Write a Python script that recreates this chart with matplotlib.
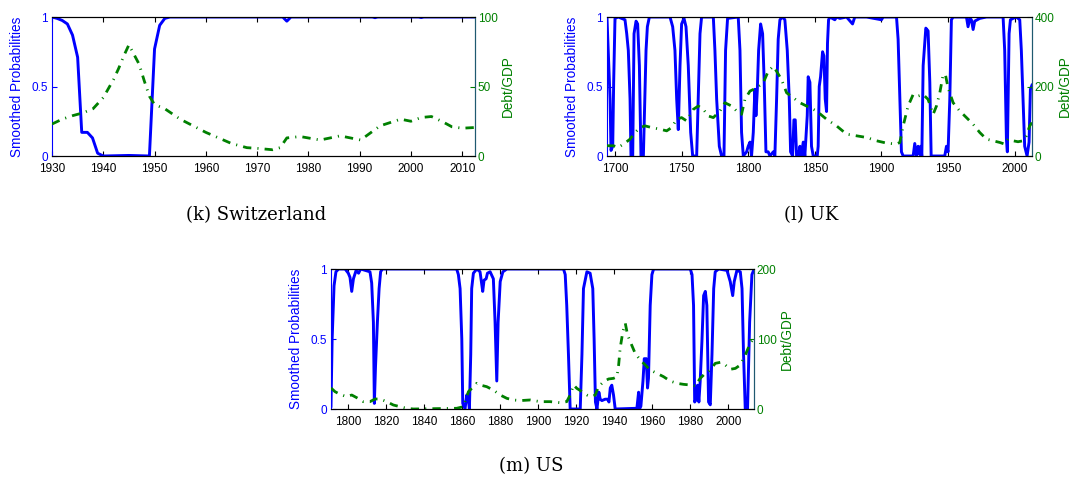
import numpy as np
import matplotlib.pyplot as plt

plt.rcParams['font.family'] = ['Liberation Sans', 'DejaVu Sans']

# ---- Switzerland ----
ch_prob_years = [1930, 1931, 1932, 1933, 1934, 1935, 1935.8, 1936.9, 1937.9, 1938.9, 1940,
                 1945, 1949, 1950, 1951, 1952, 1953, 1975, 1975.8, 1976.6, 1992.5, 1993,
                 1993.5, 2001.5, 2002, 2002.5, 2012.5]
ch_prob = [1.0, 0.99, 0.975, 0.95, 0.87, 0.71, 0.17, 0.17, 0.13, 0.02, 0.0,
           0.004, 0.0, 0.77, 0.94, 0.99, 1.0, 1.0, 0.97, 1.0, 1.0, 0.995,
           1.0, 1.0, 0.996, 1.0, 1.0]
ch_debt_years = [1930, 1932, 1934, 1936, 1938, 1940, 1942, 1943, 1944, 1945, 1946, 1947,
                 1948, 1949, 1950, 1952, 1955, 1960, 1965, 1968, 1970, 1973, 1974.5,
                 1975.8, 1978.4, 1982.3, 1986.2, 1990.2, 1994, 1998, 2000, 2002, 2004,
                 2006, 2008, 2010, 2012.5]
ch_debt = [23, 26.5, 29, 31, 34, 42, 55, 63, 72, 80, 73, 66,
           54, 43, 37, 34, 26.5, 17, 9, 6, 5.5, 4.5, 6,
           13, 14, 11.5, 14.5, 11.5, 21.7, 26.5, 25, 27.7, 28.4,
           25, 21, 20, 20.5]

# ---- UK ----
uk_prob_years = [1694, 1696.3, 1697, 1698.3, 1699, 1700, 1702.5, 1707.5, 1708.8, 1710, 1711.3,
                 1712, 1713.3, 1714.3, 1715.8, 1717, 1718.3, 1719.5, 1721.3, 1723.3, 1724.3,
                 1725.8, 1741.3, 1743.3, 1745, 1746.3, 1747.5, 1748.8, 1750, 1751.8, 1753.3,
                 1755, 1756.8, 1758.3, 1761.3, 1762.5, 1763.8, 1765, 1773.8, 1775, 1776.3,
                 1778.3, 1780, 1781.8, 1783, 1784.5, 1792.5, 1793.8, 1795, 1796.3, 1798.8,
                 1800, 1801.3, 1802.5, 1803.8, 1805, 1805.8, 1806.8, 1807.8, 1809.3, 1810.8,
                 1812, 1813.3, 1815, 1816.3, 1818.8, 1820, 1821.3, 1822.5, 1823.8, 1825.8,
                 1827.5, 1829.3, 1830.8, 1831.8, 1833.3, 1834.3, 1835.3, 1836.3, 1837.8,
                 1838.8, 1839.8, 1841.3, 1842.5, 1844.3, 1845, 1846.3, 1847.5, 1848.8,
                 1851.8, 1852.5, 1853.3, 1854.3, 1855.8, 1856.8, 1857.8, 1858.8, 1859.5,
                 1860.3, 1861.3, 1865, 1866.3, 1868.8, 1873.8, 1878.3, 1880, 1888.8, 1900,
                 1901.3, 1911.3, 1912.5, 1913.8, 1915, 1916.3, 1923.8, 1925, 1926.3, 1927.5,
                 1928.8, 1929.5, 1930.3, 1931.3, 1933.3, 1935, 1936.3, 1937.3, 1947.5,
                 1948.8, 1950, 1951.3, 1952.5, 1953.8, 1963.8, 1965, 1966.3, 1967.5, 1968.8,
                 1970, 1973.8, 1978.8, 1991.3, 1992.5, 1993.8, 1994.5, 1995.8, 1996.8,
                 1998.8, 2001.3, 2003.8, 2005, 2006.3, 2007.5, 2009.3, 2010.8, 2011.8, 2013]
uk_prob = [0.99, 0.41, 0.04, 0.07, 0.53, 0.99, 1.0, 0.98, 0.88, 0.76, 0.41,
           0.0, 0.0, 0.88, 0.97, 0.95, 0.65, 0.0, 0.0, 0.76, 0.93,
           1.0, 1.0, 0.93, 0.76, 0.41, 0.19, 0.65, 0.95, 0.99, 0.93,
           0.65, 0.17, 0.0, 0.0, 0.41, 0.88, 1.0, 1.0, 0.76, 0.41,
           0.07, 0.0, 0.0, 0.76, 0.99, 1.0, 0.76, 0.17, 0.0, 0.03,
           0.07, 0.1, 0.0, 0.17, 0.48, 0.29, 0.47, 0.76, 0.95, 0.88,
           0.53, 0.03, 0.03, 0.0, 0.03, 0.0, 0.41, 0.84, 0.98, 1.0,
           0.98, 0.76, 0.41, 0.03, 0.0, 0.26, 0.26, 0.0, 0.0,
           0.07, 0.0, 0.1, 0.0, 0.29, 0.57, 0.53, 0.07, 0.0,
           0.0, 0.07, 0.5, 0.57, 0.75, 0.72, 0.41, 0.32, 0.81,
           0.98, 1.0, 0.98, 1.0, 0.99, 1.0, 0.95, 1.0, 1.0, 0.98,
           1.0, 1.0, 0.84, 0.41, 0.03, 0.0, 0.0, 0.09, 0.0, 0.07,
           0.01, 0.07, 0.0, 0.65, 0.92, 0.9, 0.53, 0.0, 0.0,
           0.07, 0.03, 0.41, 0.98, 1.0, 1.0, 0.93, 0.99, 0.98, 0.91,
           0.97, 0.99, 1.0, 1.0, 0.76, 0.12, 0.03, 0.88, 0.98,
           0.99, 1.0, 0.98, 0.76, 0.41, 0.07, 0.0, 0.1, 0.48, 0.51]
uk_debt_years = [1694, 1698.8, 1702.5, 1707.5, 1711.3, 1715, 1718.8, 1722.5, 1727.5, 1733.8,
                 1738.8, 1742.5, 1746.3, 1750, 1753.8, 1758.8, 1762.5, 1766.3, 1770, 1773.8,
                 1778.8, 1782.5, 1787.5, 1791.3, 1795, 1797.5, 1801.3, 1806.3, 1811.3, 1815,
                 1818.8, 1821.3, 1825, 1828.8, 1833.8, 1838.8, 1846.3, 1851.3, 1858.8, 1866.3,
                 1873.8, 1881.3, 1888.8, 1896.3, 1903.8, 1911.3, 1913.8, 1916.3, 1920, 1923.8,
                 1927.5, 1931.3, 1935, 1938.8, 1941.3, 1943.8, 1946.3, 1948, 1950, 1953.8,
                 1958.8, 1963.8, 1968.8, 1973.8, 1978.8, 1983.8, 1988.8, 1992.5, 1995, 1998.8,
                 2002.5, 2006.3, 2008.8, 2011.3, 2013]
uk_debt = [29.5, 29.5, 24.8, 37.1, 48.6, 67.6, 81.9, 86.7, 81.9, 77.1,
           72.4, 81.9, 105.7, 110.5, 101, 134.3, 143.8, 134.3, 115.2, 110.5,
           129.5, 153.3, 143.8, 129.5, 120, 162.9, 186.7, 196.2, 210.5, 243.8,
           258.1, 243.8, 220, 181.9, 167.6, 153.3, 139, 129.5, 105.7, 86.7,
           62.9, 58.1, 53.3, 43.8, 37.1, 34.3, 39, 86.7, 143.8, 177.1,
           172.4, 177.1, 162.9, 120, 143.8, 181.9, 234.3, 234.3, 196.2, 153.3,
           129.5, 110.5, 91.4, 67.6, 48.6, 43.8, 39, 34.3, 48.6, 43.8,
           41, 43.8, 58.1, 86.7, 96.2]

# ---- US ----
us_prob_years = [1791, 1791.6, 1792.6, 1793.6, 1795, 1798.4, 1800.1, 1801, 1801.9, 1802.8,
                 1804.2, 1805.5, 1806.6, 1811.5, 1812.4, 1813.3, 1813.8, 1814.4, 1815.4,
                 1816.3, 1817.1, 1818, 1857.1, 1858, 1858.9, 1859.8, 1860.3, 1861.5, 1862.4,
                 1863.4, 1863.8, 1864.5, 1865, 1865.9, 1867.7, 1869.4, 1870.3, 1870.8,
                 1871.5, 1872.6, 1873.3, 1874.7, 1876.4, 1877.3, 1878.2, 1878.9, 1880,
                 1881.4, 1883.5, 1913.3, 1914.2, 1915, 1915.9, 1916.8, 1922.1, 1923,
                 1923.8, 1925.6, 1927.3, 1928.7, 1929.4, 1930.1, 1930.9, 1931.9, 1932.6,
                 1933.5, 1935.2, 1936.5, 1937.2, 1937.9, 1938.7, 1939.6, 1940.5, 1951.9,
                 1952.8, 1953.3, 1954, 1955.1, 1955.8, 1956.3, 1956.8, 1957.5, 1958,
                 1958.9, 1959.8, 1960.7, 1980, 1980.9, 1981.7, 1982.3, 1983.1, 1983.8,
                 1984.5, 1985.2, 1986.1, 1987, 1987.9, 1988.7, 1989.6, 1990.5, 1991.4,
                 1992.3, 1993.1, 1994.9, 1999.3, 2001, 2002.3, 2003.1, 2004.5, 2006.3,
                 2007.2, 2008, 2008.9, 2010.1, 2011.2, 2012.4, 2013.3]
us_prob = [0.02, 0.5, 0.88, 0.98, 1.0, 1.0, 0.97, 0.94, 0.84, 0.93,
           0.99, 0.97, 1.0, 0.98, 0.9, 0.62, 0.04, 0.3, 0.62,
           0.86, 0.98, 1.0, 1.0, 0.96, 0.86, 0.5, 0.04, 0.0, 0.1,
           0.05, 0.0, 0.39, 0.86, 0.97, 1.0, 0.98, 0.89, 0.84,
           0.92, 0.93, 0.97, 0.98, 0.93, 0.62, 0.2, 0.62, 0.91,
           0.98, 1.0, 1.0, 0.96, 0.74, 0.39, 0.0, 0.0, 0.39,
           0.86, 0.98, 0.97, 0.86, 0.5, 0.05, 0.0, 0.12, 0.07,
           0.06, 0.07, 0.07, 0.05, 0.15, 0.17, 0.1, 0.0, 0.005,
           0.12, 0.0, 0.02, 0.2, 0.36, 0.31, 0.36, 0.15, 0.22,
           0.74, 0.96, 1.0, 1.0, 0.96, 0.74, 0.05, 0.07, 0.17,
           0.05, 0.2, 0.48, 0.81, 0.84, 0.74, 0.05, 0.03, 0.39,
           0.86, 0.98, 1.0, 0.99, 0.91, 0.81, 0.91, 0.99, 0.98,
           0.86, 0.39, 0.0, 0.0, 0.62, 0.96, 0.99]
us_debt_years = [1791, 1793.1, 1795.7, 1799.2, 1801.9, 1804.5, 1808, 1811.5, 1814.2, 1816.8,
                 1820.3, 1823.8, 1827.3, 1830.8, 1834.3, 1857.1, 1860.6, 1863.3, 1865.9,
                 1867.7, 1869.4, 1872.9, 1876.4, 1880, 1883.5, 1887, 1890.5, 1895.8, 1901,
                 1906.3, 1911.6, 1915, 1916.8, 1918.6, 1920.3, 1923, 1925.6, 1928.2, 1930,
                 1931.7, 1934.4, 1937, 1939.6, 1941.4, 1942.3, 1943.1, 1944.5, 1945.8, 1947,
                 1948.4, 1951, 1953.7, 1956.3, 1958.9, 1962.4, 1965.9, 1969.4, 1972.9,
                 1976.5, 1980, 1982.6, 1985.2, 1987.9, 1990.5, 1993.1, 1995.8, 1998.4, 2001,
                 2003.7, 2006.3, 2008.9, 2011.5, 2013.3]
us_debt = [30, 24.8, 21, 17.6, 20, 16.2, 10.5, 10.5, 14.3, 14.3,
           10.5, 5.7, 3.3, 1, 0, 1, 3.3, 24.8, 31.9,
           36.7, 34.3, 31.9, 27, 20, 15.2, 12.9, 12, 12.9, 10.5,
           10.5, 9, 10.5, 20, 34.3, 29.5, 24.8, 20, 17.6, 20,
           31.9, 39, 42.9, 43.8, 46, 62.9, 86.7, 110.5, 122.4, 105.7,
           96.2, 79.5, 70, 62.9, 55.7, 51, 46.2, 40, 36.7,
           35.2, 34.3, 32.9, 43.8, 51, 55.7, 65.2, 66.7, 62.9, 56.7,
           58, 62.9, 77, 93.8, 101]

blue = '#0000ff'
green = '#008000'
W, H = 1070, 478

fig = plt.figure(figsize=(W / 100, H / 100), dpi=100)


def panel(px, xlim, xticks, p_years, prob, d_years, debt, dmax, caption, cap_x, cap_y):
    # px = (left, right, top, bottom) in pixels
    l, r, t, b = px
    ax1 = fig.add_axes([l / W, 1 - b / H, (r - l) / W, (b - t) / H])
    ax2 = ax1.twinx()

    ax1.plot(p_years, prob, color=blue, lw=2.1)
    ax2.plot(d_years, debt, color=green, lw=2, linestyle=(0, (3, 2.2, 0.4, 2.2)))

    ax1.set_xlim(*xlim)
    ax1.set_ylim(0, 1)
    ax2.set_ylim(0, dmax)
    ax1.set_xticks(xticks)
    ax1.set_yticks([0, 0.5, 1])
    ax1.set_yticklabels(['0', '0.5', '1'])
    ax2.set_yticks([0, dmax / 2, dmax])
    ax2.set_yticklabels([str(int(v)) for v in [0, dmax / 2, dmax]])

    ax1.tick_params(axis='x', direction='in', top=True, length=3.5, labelsize=8.5, pad=5)
    ax1.tick_params(axis='y', direction='in', colors=blue, length=3.5, labelsize=8.5, pad=3)
    ax2.tick_params(axis='y', direction='in', colors=green, length=3.5, labelsize=8.5, pad=2)

    ax1.set_ylabel('Smoothed Probabilities', color=blue, fontsize=9.8, labelpad=5)
    ax2.set_ylabel('Debt/GDP', color=green, fontsize=9.8, labelpad=2)

    for ax in (ax1, ax2):
        ax.spines['top'].set_color('black')
        ax.spines['bottom'].set_color('black')
        ax.spines['left'].set_color(blue)
        ax.spines['right'].set_color('#1f5a70')
    ax2.spines['left'].set_visible(False)

    fig.text(cap_x / W, 1 - cap_y / H, caption, ha='center', va='center',
             family='DejaVu Serif', fontsize=13)


panel((52, 475, 17, 156), (1930, 2012.5), range(1930, 2011, 10),
      ch_prob_years, ch_prob, ch_debt_years, ch_debt, 100,
      '(k) Switzerland', 256, 215)
panel((607, 1032, 17, 156), (1694, 2013), range(1700, 2001, 50),
      uk_prob_years, uk_prob, uk_debt_years, uk_debt, 400,
      '(l) UK', 811, 215)
panel((331, 754, 269, 409), (1791, 2013.5), range(1800, 2001, 20),
      us_prob_years, us_prob, us_debt_years, us_debt, 200,
      '(m) US', 531, 466)

plt.savefig('out.png', dpi=100)
